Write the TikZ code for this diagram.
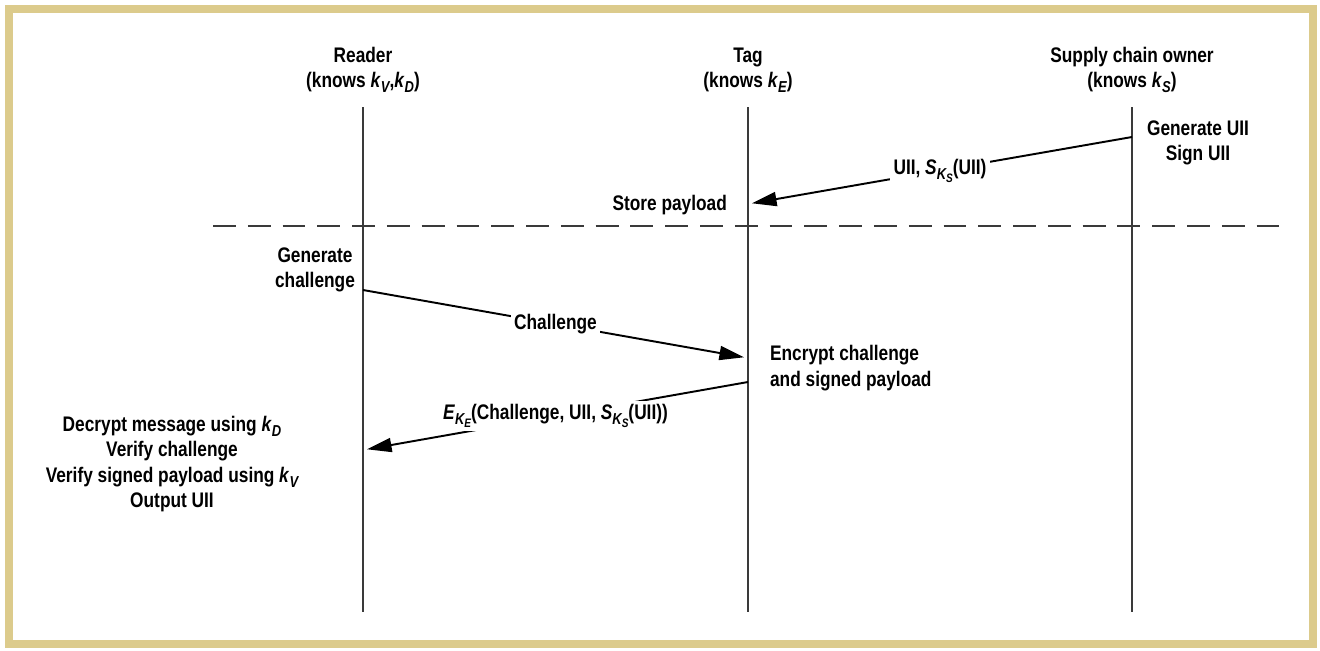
\documentclass[tikz,border=0pt]{standalone}
\usepackage{fontspec}
\setmainfont{Liberation Sans}[FakeStretch=0.82]
\usetikzlibrary{arrows.meta}

\definecolor{frametan}{HTML}{DCCB8C}
\definecolor{lifegray}{HTML}{3A3A3A}
\newcommand{\ksub}[2]{\textit{#1}\raisebox{-0.45ex}{\fontsize{9}{10}\selectfont\itshape #2}}
\newcommand{\kssub}[3]{\textit{#1}\raisebox{-0.45ex}{\fontsize{9}{10}\selectfont\itshape #2\raisebox{-0.35ex}{\fontsize{7}{8}\selectfont #3}}}

\tikzset{
	lbl/.style={font=\fontsize{12}{14.4}\selectfont\bfseries, align=center, inner sep=1pt},
	lifeline/.style={draw=lifegray, line width=1.1pt},
	msg/.style={-{Triangle[length=14pt,width=8pt]}, line width=1.1pt, shorten >=2.3pt},
	msglbl/.style={lbl, fill=white, inner sep=2pt},
	phase/.style={draw=lifegray, line width=0.85pt, dash pattern=on 13pt off 6.8pt}
}

\begin{document}
\begin{tikzpicture}[x=0.02cm, y=-0.02cm]
	\useasboundingbox (0,0) rectangle (1320,650);
	\draw[frametan, line width=4.5pt] (9,9) rectangle (1313,644); % frame

	% parties
	\node[lbl] (reader) at (363,70) {Reader\\(knows \ksub{k}{V},\ksub{k}{D})};
	\node[lbl] (tag) at (748,70) {Tag\\(knows \ksub{k}{E})};
	\node[lbl] (owner) at (1132,70) {Supply chain owner\\(knows \ksub{k}{S})};

	% lifelines
	\draw[lifeline] (363,107) coordinate (rtop) -- (363,612) coordinate (rbot);
	\draw[lifeline] (748,107) coordinate (ttop) -- (748,612) coordinate (tbot);
	\draw[lifeline] (1132,107) coordinate (otop) -- (1132,612) coordinate (obot);

	% phase separator
	\draw[phase] (213,226) coordinate (sepl) -- (1280,226) coordinate (sepr);

	% actions
	\node[lbl] (gen) at (1198,143) {Generate UII\\Sign UII};
	\node[lbl, anchor=east] (store) at (729,205) {Store payload};
	\node[lbl] (chal) at (315,270) {Generate\\challenge};
	\node[lbl, align=left, anchor=west] (enc) at (768,368) {Encrypt challenge\\and signed payload};
	\node[lbl] (dec) at (172,464) {Decrypt message using \ksub{k}{D}\\Verify challenge\\Verify signed payload using \ksub{k}{V}\\Output UII};

	% messages
	\coordinate (m1s) at (1132,137);
	\coordinate (m1e) at (748,204);
	\coordinate (m2s) at (363,290);
	\coordinate (m2e) at (748,358);
	\coordinate (m3s) at (748,382);
	\coordinate (m3e) at (363,450);
	\draw[msg] (m1s) -- node[msglbl] {UII, \kssub{S}{K}{S}(UII)} (m1e);
	\draw[msg] (m2s) -- node[msglbl] {Challenge} (m2e);
	\draw[msg] (m3s) -- node[msglbl] {\kssub{E}{K}{E}(Challenge, UII, \kssub{S}{K}{S}(UII))} (m3e);
\end{tikzpicture}
\end{document}
